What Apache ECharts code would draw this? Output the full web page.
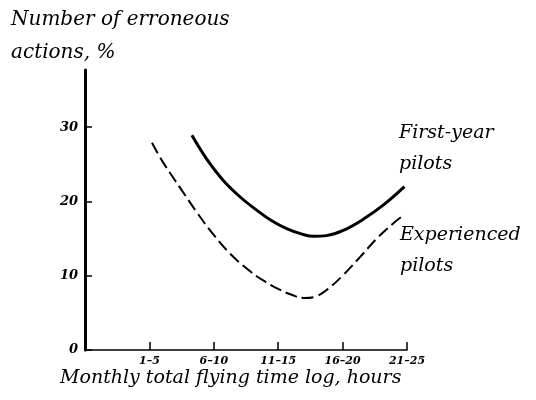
<!DOCTYPE html>
<html>
<head>
<meta charset="utf-8">
<script src="https://cdn.jsdelivr.net/npm/echarts@6/dist/echarts.min.js"></script>
<style>
  html, body { margin: 0; padding: 0; background: #fff; }
  #chart { width: 536px; height: 400px; }
</style>
</head>
<body>
<div id="chart"></div>
<script>
// x positions: 1..5 = the five flying-time groups
const categories = ['1–5', '6–10', '11–15', '16–20', '21–25'];
const yTicks = [0, 10, 20, 30];

// [group position, % erroneous actions]
const firstYear = [
  [1.66, 28.9], [1.89, 25.7], [2.14, 22.9], [2.41, 20.6], [2.67, 18.8],
  [2.90, 17.4], [3.14, 16.3], [3.37, 15.6], [3.55, 15.3], [3.75, 15.4],
  [4.01, 16.1], [4.32, 17.6], [4.63, 19.5], [4.96, 22.0]
];
const experienced = [
  [1.04, 27.9], [1.21, 25.3], [1.48, 21.8], [1.74, 18.5], [1.99, 15.6],
  [2.25, 13.0], [2.52, 10.9], [2.76, 9.4], [3.03, 8.1], [3.22, 7.4],
  [3.40, 7.0], [3.58, 7.2], [3.77, 8.2], [4.01, 10.1], [4.27, 12.5],
  [4.53, 15.0], [4.78, 17.0], [4.97, 18.3]
];

const chart = echarts.init(document.getElementById('chart'));
const font = '"DejaVu Serif", serif';
const textFont = 'italic 19px ' + font;

chart.setOption({
  backgroundColor: '#fff',
  animation: false,
  grid: { left: 85, right: 129, top: 70, bottom: 50 },
  xAxis: {
    type: 'value',
    min: 0,
    max: 5,
    interval: 1,
    axisLine: { lineStyle: { color: '#000', width: 1.5 } },
    axisTick: { inside: true, length: 8, lineStyle: { color: '#000', width: 1.5 } },
    splitLine: { show: false },
    axisLabel: {
      color: '#000',
      fontFamily: font,
      fontStyle: 'italic',
      fontWeight: 'bold',
      fontSize: 11,
      margin: 6,
      formatter: v => (v >= 1 ? categories[v - 1] : '')
    }
  },
  yAxis: {
    type: 'value',
    min: 0,
    max: 37.7,
    interval: 10,
    axisLine: { show: true, lineStyle: { color: '#000', width: 3 } },
    axisTick: { show: true, inside: true, length: 7, lineStyle: { color: '#000', width: 1.5 } },
    splitLine: { show: false },
    axisLabel: {
      color: '#000',
      fontFamily: font,
      fontStyle: 'italic',
      fontWeight: 'bold',
      fontSize: 13,
      margin: 7,
      showMaxLabel: false,
      formatter: v => (yTicks.includes(v) ? String(v) : '')
    }
  },
  series: [
    {
      name: 'First-year pilots',
      type: 'line',
      data: firstYear,
      smooth: 0.4,
      showSymbol: false,
      lineStyle: { color: '#000', width: 3 }
    },
    {
      name: 'Experienced pilots',
      type: 'line',
      data: experienced,
      smooth: 0.4,
      showSymbol: false,
      lineStyle: { color: '#000', width: 2, type: [12, 5] }
    }
  ],
  graphic: [
    { type: 'text', left: 11, top: 10, style: { text: 'Number of erroneous', font: 'italic 20px ' + font, fill: '#000' } },
    { type: 'text', left: 11, top: 43, style: { text: 'actions, %', font: 'italic 20px ' + font, fill: '#000' } },
    { type: 'text', left: 399, top: 124, style: { text: 'First-year', font: textFont, fill: '#000' } },
    { type: 'text', left: 399, top: 155, style: { text: 'pilots', font: textFont, fill: '#000' } },
    { type: 'text', left: 400, top: 226, style: { text: 'Experienced', font: textFont, fill: '#000' } },
    { type: 'text', left: 400, top: 257, style: { text: 'pilots', font: textFont, fill: '#000' } },
    { type: 'text', left: 60, top: 369, style: { text: 'Monthly total flying time log, hours', font: textFont, fill: '#000' } }
  ]
});
</script>
</body>
</html>
